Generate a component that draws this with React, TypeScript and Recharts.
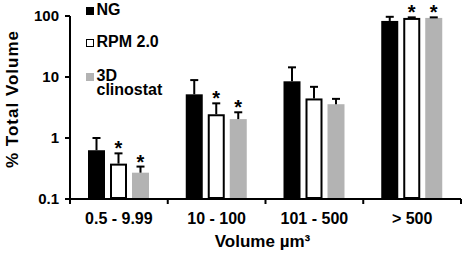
import React from 'react';
import { BarChart, Bar, XAxis, YAxis, Legend, Label } from 'recharts';

const categories = ['0.5 - 9.99', '10 - 100', '101 - 500', '> 500'];
const ngValues = [0.63, 5.2, 8.5, 83];
const ngErrors = [0.37, 3.7, 5.9, 14];
const ngSig = [false, false, false, false];
const rpmValues = [0.38, 2.45, 4.45, 93];
const rpmErrors = [0.18, 1.25, 2.45, 2];
const rpmSig = [true, true, false, true];
const clinoValues = [0.27, 2.04, 3.58, 93];
const clinoErrors = [0.07, 0.6, 0.8, 2];
const clinoSig = [true, true, false, true];
const yTicks = [0.1, 1, 10, 100];
const yDomain = [0.1, 100];
const seriesNames = ['NG', 'RPM 2.0', '3D clinostat'];
const seriesFills = ['#000000', '#ffffff', '#b3b3b3'];

const FONT = '"Liberation Sans", Arial, Helvetica, sans-serif';

const data = categories.map((c, i) => ({
  category: c,
  ng: ngValues[i],
  ngErr: ngErrors[i],
  ngSig: ngSig[i],
  rpm: rpmValues[i],
  rpmErr: rpmErrors[i],
  rpmSig: rpmSig[i],
  clino: clinoValues[i],
  clinoErr: clinoErrors[i],
  clinoSig: clinoSig[i],
}));

const BarWithError = (props: any) => {
  const { x, y, width, height, payload, valKey, errKey, sigKey, fillCol, outlined } = props;
  const v = payload[valKey];
  const e = payload[errKey];
  const sig = payload[sigKey];
  const base = Math.log10(yDomain[0]);
  const k = height / (Math.log10(v) - base);
  const yTop = y + height - k * (Math.log10(v + e) - base);
  const cx = x + width / 2;
  return (
    <g>
      {outlined ? (
        <rect x={x + 1} y={y + 1} width={width - 2} height={height - 2} fill={fillCol} stroke="#000" strokeWidth={2} />
      ) : (
        <rect x={x} y={y} width={width} height={height} fill={fillCol} />
      )}
      <line x1={cx} x2={cx} y1={y} y2={yTop} stroke="#000" strokeWidth={2} />
      <line x1={cx - 4} x2={cx + 4} y1={yTop} y2={yTop} stroke="#000" strokeWidth={2} />
      {sig ? (
        <text x={cx} y={yTop + 2} textAnchor="middle" fontFamily={FONT} fontWeight="bold" fontSize={20} fill="#000">
          *
        </text>
      ) : null}
    </g>
  );
};

const XTick = (props: any) => {
  const { x, y, payload, index, visibleTicksCount } = props;
  const off = payload.offset || 0;
  const axisY = y - 5;
  const isLast = index === (visibleTicksCount ?? categories.length) - 1;
  return (
    <g>
      <line x1={x - off} x2={x - off} y1={axisY} y2={axisY + 5} stroke="#000" strokeWidth={2} />
      {isLast ? <line x1={x + off} x2={x + off} y1={axisY} y2={axisY + 5} stroke="#000" strokeWidth={2} /> : null}
      <text x={x} y={axisY + 24.5} textAnchor="middle" fontFamily={FONT} fontWeight="bold" fontSize={16} fill="#000">
        {payload.value}
      </text>
    </g>
  );
};

const YTitle = (props: any) => {
  const vb = props.viewBox || { x: 0, y: 0, width: 0, height: 0 };
  const tx = vb.x + 18;
  const ty = vb.y + vb.height / 2 - 8.5;
  return (
    <text x={tx} y={ty} transform={`rotate(-90 ${tx} ${ty})`} textAnchor="middle" fontFamily={FONT} fontWeight="bold" fontSize={17} letterSpacing={1} fill="#000">
      % Total Volume
    </text>
  );
};

const XTitle = (props: any) => {
  const vb = props.viewBox || { x: 0, y: 0, width: 0, height: 0 };
  return (
    <text x={vb.x + vb.width / 2 - 3} y={vb.y + 48} textAnchor="middle" fontFamily={FONT} fontWeight="bold" fontSize={17} fill="#000">
      Volume µm³
    </text>
  );
};

const LegendBox = () => (
  <div style={{ fontFamily: FONT, fontWeight: 'bold', fontSize: 16, lineHeight: '14px', color: '#000' }}>
    {seriesNames.map((n, i) => (
      <div key={n} style={{ position: 'relative', paddingLeft: 11, width: 75, marginBottom: i === 0 ? 18 : 20 }}>
        <span
          style={{
            position: 'absolute',
            left: 0,
            top: 4.5,
            width: 8,
            height: 8,
            boxSizing: 'border-box',
            background: seriesFills[i],
            border: i === 1 ? '1.5px solid #000' : 'none',
          }}
        />
        {n}
      </div>
    ))}
  </div>
);

export default function App() {
  return (
    <div style={{ position: 'absolute', left: 0, top: 0, background: '#fff' }}>
      <BarChart width={464} height={254} data={data} margin={{ top: 16, right: 3, bottom: 0, left: 0 }} barSize={17} barGap={5}>
        <XAxis
          dataKey="category"
          interval={0}
          height={55}
          tickSize={5}
          tickMargin={0}
          tickLine={false}
          axisLine={{ stroke: '#000', strokeWidth: 2 }}
          tick={<XTick />}
        >
          <Label content={<XTitle />} />
        </XAxis>
        <YAxis
          type="number"
          scale="log"
          domain={yDomain}
          ticks={yTicks}
          width={70}
          tickSize={5}
          tickMargin={6}
          tickFormatter={(v: number) => String(v)}
          axisLine={{ stroke: '#000', strokeWidth: 2 }}
          tickLine={{ stroke: '#000', strokeWidth: 2 }}
          tick={{ fill: '#000', fontSize: 15, fontWeight: 'bold', fontFamily: FONT }}
        >
          <Label content={<YTitle />} />
        </YAxis>
        <Legend
          layout="vertical"
          align="center"
          verticalAlign="middle"
          wrapperStyle={{ left: 85.5, top: 2.5, width: 100, height: 110 }}
          content={() => <LegendBox />}
        />
        <Bar dataKey="ng" name={seriesNames[0]} fill={seriesFills[0]} isAnimationActive={false}
          shape={(p: any) => <BarWithError {...p} valKey="ng" errKey="ngErr" sigKey="ngSig" fillCol={seriesFills[0]} />} />
        <Bar dataKey="rpm" name={seriesNames[1]} fill={seriesFills[1]} isAnimationActive={false}
          shape={(p: any) => <BarWithError {...p} valKey="rpm" errKey="rpmErr" sigKey="rpmSig" fillCol={seriesFills[1]} outlined />} />
        <Bar dataKey="clino" name={seriesNames[2]} fill={seriesFills[2]} isAnimationActive={false}
          shape={(p: any) => <BarWithError {...p} valKey="clino" errKey="clinoErr" sigKey="clinoSig" fillCol={seriesFills[2]} />} />
      </BarChart>
    </div>
  );
}
